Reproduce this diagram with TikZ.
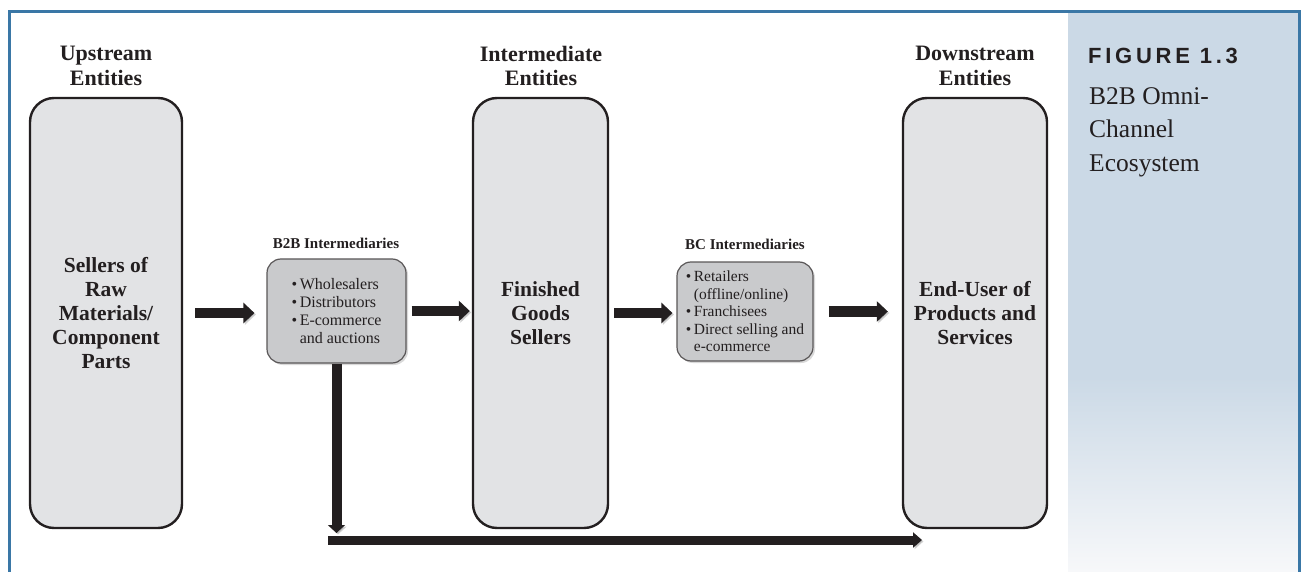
\documentclass[tikz,border=0pt]{standalone}
\usepackage{fontspec}
\setmainfont{Liberation Serif}
\newfontfamily\figlabelfont[LetterSpace=17]{Liberation Sans}
\usetikzlibrary{arrows.meta,shadows}

\definecolor{frameblue}{HTML}{3A77A6}
\definecolor{panelblue}{HTML}{CBD9E6}
\definecolor{panelfade}{HTML}{F7F8FA}
\definecolor{bigfill}{HTML}{E2E3E5}
\definecolor{smallfill}{HTML}{C9CACC}
\definecolor{ink}{HTML}{231F20}

\tikzset{
  bigbox/.style={draw=ink, line width=2.4pt, fill=bigfill, rounded corners=24pt,
    align=center, text=ink, inner sep=2pt,
    font=\fontsize{21.5}{24}\selectfont\bfseries},
  smallbox/.style={draw=ink!75, line width=1.2pt, fill=smallfill, rounded corners=14pt,
    align=left, text=ink, inner sep=2pt,
    drop shadow={shadow xshift=2pt, shadow yshift=-2pt, opacity=.3},
    font=\fontsize{16}{18}\selectfont},
  heading/.style={align=center, text=ink, inner sep=0pt,
    font=\fontsize{22}{24.5}\selectfont\bfseries},
  sublabel/.style={text=ink, inner sep=0pt, font=\fontsize{15}{18}\selectfont\bfseries},
  arrowshade/.style={preaction={draw=black!40, opacity=.45,
    transform canvas={shift={(1.5pt,-1.5pt)}}}},
  flow/.style={draw=ink, line width=10.5pt, arrowshade,
    -{Triangle[width=20pt,length=11pt]}},
  dropflow/.style={draw=ink, line width=10pt, arrowshade,
    -{Triangle[width=17pt,length=8pt]}},
  railflow/.style={draw=ink, line width=9pt, arrowshade,
    -{Triangle[width=15pt,length=9pt]}},
}

\begin{document}
\begin{tikzpicture}[x=1pt,y=-1pt]
\useasboundingbox (0,0) rectangle (1304,572);

% caption panel on the right
\fill[panelblue] (1068,12) rectangle (1299,377);
\shade[top color=panelblue, bottom color=panelfade] (1068,377) rectangle (1299,572);

% outer frame
\draw[frameblue, line width=3pt] (9,572) -- (9,12) -- (1299,12) -- (1299,572);

% column headings
\node[heading] (uph) at (106,66) {Upstream\\Entities};
\node[heading] (midh) at (541,66) {Intermediate\\Entities};
\node[heading] (downh) at (975,66) {Downstream\\Entities};

% entity columns
\node[bigbox, minimum width=152pt, minimum height=430pt] (up) at (106,313)
  {Sellers of\\Raw\\Materials/\\Component\\Parts};
\node[bigbox, minimum width=135pt, minimum height=430pt] (fin) at (540.5,313)
  {Finished\\Goods\\Sellers};
\node[bigbox, minimum width=144pt, minimum height=430pt] (end) at (975,313)
  {End-User of\\Products and\\Services};

% intermediaries
\node[sublabel] (b2bl) at (336,243) {B2B Intermediaries};
\node[smallbox, minimum width=139pt, minimum height=104pt] (b2b) at (336.5,311)
  {\textbullet\,Wholesalers\\
   \textbullet\,Distributors\\
   \textbullet\,E-commerce\\
   \hphantom{\textbullet\,}and auctions};

\node[sublabel] (bcl) at (745,244) {BC Intermediaries};
\node[smallbox, minimum width=136pt, minimum height=99pt,
      font=\fontsize{15.5}{17.5}\selectfont] (bc) at (745,311.5)
  {\textbullet\,Retailers\\
   \hphantom{\textbullet\,}(offline/online)\\
   \textbullet\,Franchisees\\
   \textbullet\,Direct selling and\\
   \hphantom{\textbullet\,}e-commerce};

% caption
\node[anchor=north west, inner sep=0pt, text=ink,
      font=\figlabelfont\fontsize{22}{26}\selectfont\bfseries] (figno) at (1088,48)
  {FIGURE 1.3};
\node[anchor=north west, inner sep=0pt, text=ink, align=left,
      font=\fontsize{25.5}{33.5}\selectfont] (figtitle) at (1089,87)
  {B2B Omni-\\Channel\\Ecosystem};

% main flow
\draw[flow, shorten <=12pt, shorten >=12pt] (up.east) -- (up.east -| b2b.west);
\draw[flow, shorten <=5pt, shorten >=2pt] (b2b.east) -- (b2b.east -| fin.west);
\draw[flow, shorten <=5pt, shorten >=4pt] (fin.east) -- (fin.east -| bc.west);
\draw[flow, shorten <=15pt, shorten >=14pt] (bc.east) -- (bc.east -| end.west);

% bypass route from the B2B intermediaries to the end users
\coordinate (railstart) at (328,540);
\coordinate (railend) at (922,540);
\draw[dropflow, shorten >=7pt] (b2b.south) -- (b2b.south |- railstart);
\draw[railflow] (railstart) -- (railend);
\end{tikzpicture}
\end{document}
